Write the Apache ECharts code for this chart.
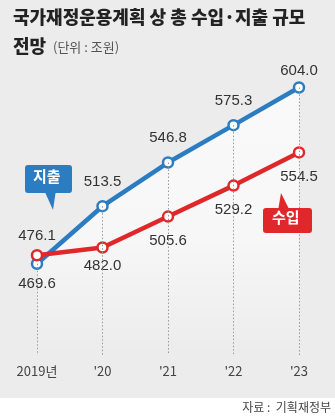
<!DOCTYPE html>
<html><head><meta charset="utf-8">
<script src="https://cdn.jsdelivr.net/npm/echarts@6/dist/echarts.min.js"></script>
<style>html,body{margin:0;padding:0;background:#ececec;}#c{width:335px;height:419px;}</style>
</head><body><div id="c"></div>
<script>
const categories = ["2019년", "'20", "'21", "'22", "'23"];
const spending = [469.6, 513.5, 546.8, 575.3, 604.0];
const revenue = [476.1, 482.0, 505.6, 529.2, 554.5];
const yMin = 400, yMax = 625;

const BLUE = '#2b7cc1', RED = '#e0282a';
const KR = '"Noto Sans CJK KR", sans-serif';
const NUM = '"Liberation Sans", Arial, sans-serif';

// label placement per point (style config, separate from data)
const spendPos = [['bottom', 6], ['top', 11], ['top', 11], ['top', 11], ['top', 3]];
const revPos = [['top', 6], ['bottom', 5], ['bottom', 11], ['bottom', 11], ['bottom', 11]];

function mk(vals, pos) {
  return vals.map((v, i) => ({
    value: v,
    label: { position: pos[i][0], distance: pos[i][1] }
  }));
}

const chart = echarts.init(document.getElementById('c'));
chart.setOption({
  backgroundColor: '#ececec',
  animation: false,
  grid: { left: 37, right: 36, top: 60, bottom: 64 },
  xAxis: {
    type: 'category', data: categories, boundaryGap: false,
    axisLine: { show: false }, axisTick: { show: false },
    axisLabel: { color: '#444', fontSize: 13, fontFamily: KR, margin: 10 },
    splitLine: { show: false }
  },
  yAxis: {
    type: 'value', min: yMin, max: yMax, show: false
  },
  graphic: [
    { type: 'rect', left: 0, top: 398, shape: { width: 335, height: 21 }, style: { fill: '#ffffff' }, z: 0 },
    { type: 'text', left: 13, top: 8, style: { text: '국가재정운용계획 상 총 수입·지출 규모', font: '900 18px ' + KR, fill: '#222' } },
    { type: 'text', left: 13, top: 37, style: { text: '전망', font: '900 18px ' + KR, fill: '#222' } },
    { type: 'text', left: 53, top: 41, style: { text: '(단위 : 조원)', font: '13px ' + KR, fill: '#555' } },
    { type: 'text', right: 4, top: 401, style: { text: '자료 :  기획재정부', font: '12px ' + KR, fill: '#444' } },
    // 지출 callout
    { type: 'polygon', shape: { points: [[44, 190], [56, 190], [53, 210]] }, style: { fill: BLUE }, z: 10 },
    { type: 'rect', left: 25, top: 165, shape: { width: 47, height: 28, r: 3 }, style: { fill: BLUE }, z: 10 },
    { type: 'text', left: 33, top: 169, style: { text: '지출', font: 'bold 15px ' + KR, fill: '#fff' }, z: 11 },
    // 수입 callout
    { type: 'polygon', shape: { points: [[278, 211], [290, 211], [281, 193]] }, style: { fill: RED }, z: 10 },
    { type: 'rect', left: 263, top: 208, shape: { width: 49, height: 25, r: 3 }, style: { fill: RED }, z: 10 },
    { type: 'text', left: 272, top: 210, style: { text: '수입', font: 'bold 15px ' + KR, fill: '#fff' }, z: 11 }
  ],
  series: [
    {
      name: '지출', type: 'line', data: mk(spending, spendPos),
      z: 3,
      lineStyle: { color: BLUE, width: 4.5 },
      itemStyle: { color: '#fff', borderColor: BLUE, borderWidth: 2.5 },
      symbol: 'circle', symbolSize: 10, showAllSymbol: true,
      areaStyle: {
        origin: 'start',
        color: new echarts.graphic.LinearGradient(0, 0, 0, 1, [
          { offset: 0, color: 'rgba(255,255,255,1)' },
          { offset: 0.55, color: 'rgba(255,255,255,0.85)' },
          { offset: 1, color: 'rgba(255,255,255,0)' }
        ])
      },
      label: { show: true, color: '#333', fontSize: 15, fontFamily: NUM, formatter: p => p.value.toFixed(1) },
      markLine: {
        silent: true, symbol: 'none', label: { show: false },
        lineStyle: { color: '#9a9a9a', type: [1.5, 2], width: 1 },
        data: spending.map((v, i) => [{ coord: [i, v] }, { coord: [i, yMin] }])
      }
    },
    {
      name: '수입', type: 'line', data: mk(revenue, revPos),
      z: 4,
      lineStyle: { color: RED, width: 4.5 },
      itemStyle: { color: '#fff', borderColor: RED, borderWidth: 2.5 },
      symbol: 'circle', symbolSize: 10, showAllSymbol: true,
      label: { show: true, color: '#333', fontSize: 15, fontFamily: NUM, formatter: p => p.value.toFixed(1) }
    }
  ]
});
</script></body></html>
